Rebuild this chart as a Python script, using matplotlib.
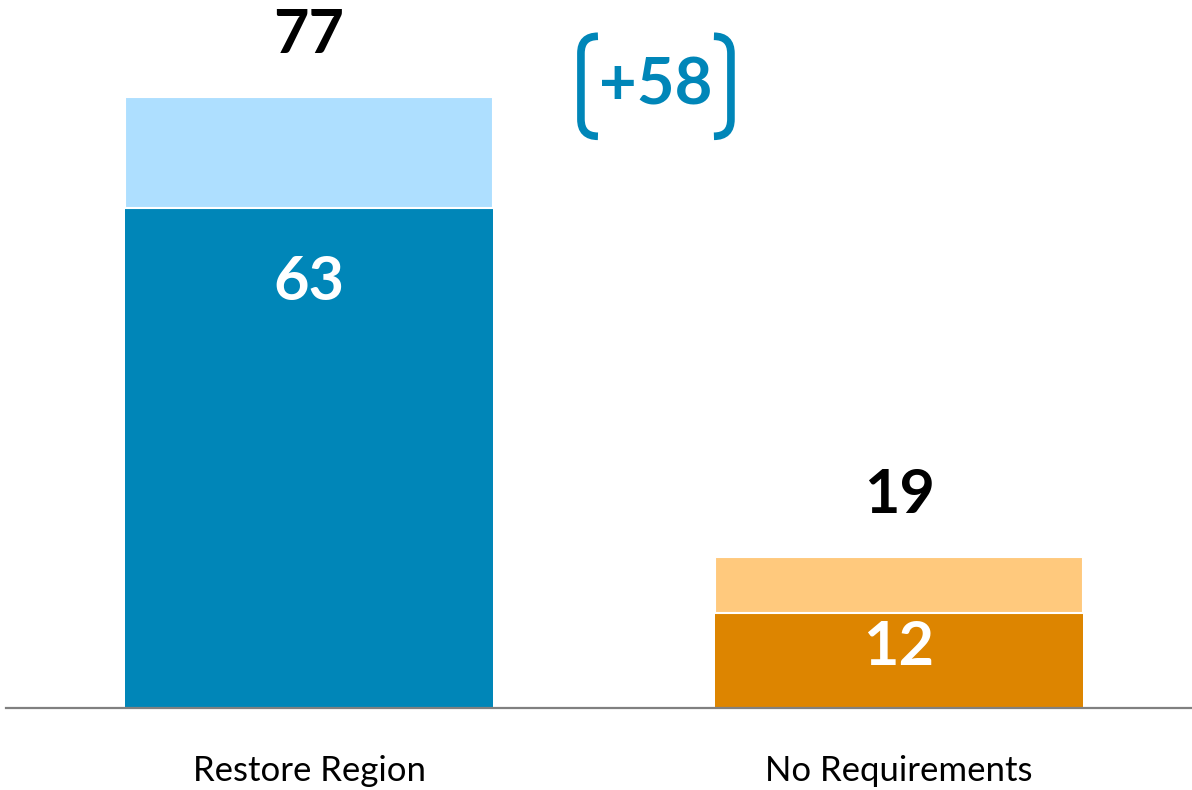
import matplotlib
matplotlib.use("Agg")
import matplotlib.pyplot as plt
from matplotlib.path import Path
from matplotlib.patches import PathPatch

categories = ["Restore Region", "No Requirements"]
base_values = [63, 12]
total_values = [77, 19]

dark_colors = ["#0086B8", "#DD8500"]
light_colors = ["#AEDFFF", "#FFC97D"]
accent = "#0086B8"

plt.rcParams["font.family"] = ["Lato", "DejaVu Sans"]

fig = plt.figure(figsize=(11.92, 7.9), dpi=100)
ax = fig.add_axes([6 / 1192, 82 / 790, 1 - 6 / 1192, 708 / 790])

x = list(range(len(categories)))
width = 0.624
tops = [t - b for t, b in zip(total_values, base_values)]

ax.bar(x, base_values, width=width, color=dark_colors, linewidth=0)
ax.bar(x, tops, width=width, bottom=base_values, color=light_colors,
       edgecolor="white", linewidth=1.5)

ax.set_xlim(-0.5136, 1.4966)
ax.set_ylim(0, 708 / 7.93)

for side in ["top", "right", "left"]:
    ax.spines[side].set_visible(False)
ax.spines["bottom"].set_color("#808080")
ax.spines["bottom"].set_linewidth(1.6)
ax.set_yticks([])
ax.set_xticks(x)
ax.set_xticklabels(categories, fontsize=25)
ax.tick_params(axis="x", length=0, pad=34)

# labels
inner_offsets = [-74, -34]
for i in x:
    ax.annotate(str(total_values[i]), (i, total_values[i]), xytext=(0, 62),
                textcoords="offset pixels", ha="center", va="center",
                fontsize=44, fontweight="bold", color="black")
    ax.annotate(str(base_values[i]), (i, base_values[i]), xytext=(0, inner_offsets[i]),
                textcoords="offset pixels", ha="center", va="center",
                fontsize=44, fontweight="bold", color="white")

# difference callout with brackets
diff = total_values[0] - total_values[1]
cx, cy = 0.588, total_values[0] + 1.4
ax.text(cx, cy, "+%d" % diff, ha="center", va="center", fontsize=47,
        fontweight="bold", color=accent)

px_x = 590.0
px_y = 7.93
hw, hh, hook = 75, 50, 17
for s in (-1, 1):
    pts = [(-s * (hw - hook), hh), (-s * hw, hh), (-s * hw, hh - hook),
           (-s * hw, -hh + hook), (-s * hw, -hh), (-s * (hw - hook), -hh)]
    verts = [(cx + px / px_x, cy + py / px_y) for px, py in pts]
    codes = [Path.MOVETO, Path.CURVE3, Path.CURVE3, Path.LINETO, Path.CURVE3, Path.CURVE3]
    ax.add_patch(PathPatch(Path(verts, codes), fill=False, edgecolor=accent,
                           linewidth=5.5, capstyle="butt", clip_on=False))

fig.savefig("out.png", dpi=100)
